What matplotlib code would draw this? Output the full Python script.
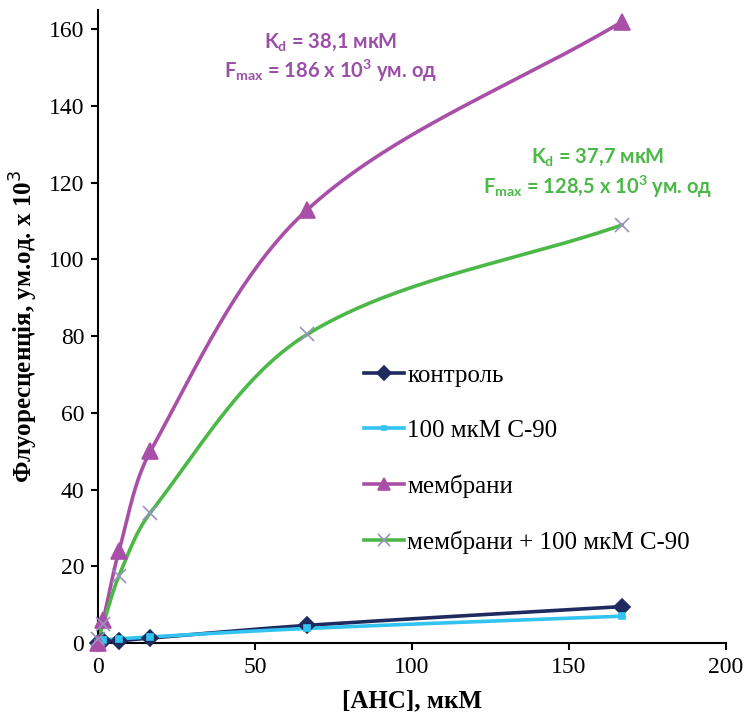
import numpy as np
import matplotlib
matplotlib.use("Agg")
import matplotlib.pyplot as plt

# [АНС], мкМ
conc = [0, 1.67, 6.67, 16.7, 66.7, 167]

control = [0, 0.4, 0.6, 1.3, 4.6, 9.5]
c90 = [0, 0.7, 1.1, 1.6, 3.8, 7.0]
membranes = [0, 6.0, 24.0, 50.0, 113.0, 162.0]
membranes_c90 = [1.0, 5.0, 17.5, 34.0, 80.5, 109.0]

labels = ["контроль", "100 мкМ С-90", "мембрани", "мембрани + 100 мкМ С-90"]


def smooth(x, y, n=40):
    # Catmull-Rom curve through the points, like Excel's smoothed lines
    x = np.asarray(x, float) / 200.0
    y = np.asarray(y, float) / 165.0
    px = np.concatenate([[2 * x[0] - x[1]], x, [2 * x[-1] - x[-2]]])
    py = np.concatenate([[2 * y[0] - y[1]], y, [2 * y[-1] - y[-2]]])
    P = np.column_stack([px, py])
    out = []
    for i in range(1, len(P) - 2):
        p0, p1, p2, p3 = P[i - 1], P[i], P[i + 1], P[i + 2]
        d1 = np.linalg.norm(p2 - p1)
        t1 = (p2 - p0) / 2 * d1 / max((np.linalg.norm(p1 - p0) + d1) / 2, 1e-9)
        t2 = (p3 - p1) / 2 * d1 / max((np.linalg.norm(p3 - p2) + d1) / 2, 1e-9)
        t = np.linspace(0, 1, n)[:, None]
        h00 = 2 * t**3 - 3 * t**2 + 1
        h10 = t**3 - 2 * t**2 + t
        h01 = -2 * t**3 + 3 * t**2
        h11 = t**3 - t**2
        out.append(h00 * p1 + h10 * t1 + h01 * p2 + h11 * t2)
    out = np.vstack(out)
    return out[:, 0] * 200.0, out[:, 1] * 165.0


fig = plt.figure(figsize=(7.46, 7.22), dpi=100)
ax = fig.add_axes([0.1314, 0.1094, 0.8418, 0.8767])

serif = "Liberation Serif"

styles = [
    (control, "#1F2A5E", "D", "#1F2A5E", 8),
    (c90, "#33C3F0", "s", "#33C3F0", 4),
    (membranes, "#A94FA8", "^", "#A94FA8", 11),
    (membranes_c90, "#4CB848", "x", "#9A92C0", 10),
]

handles = []
for (vals, col, mk, mcol, ms), lab in zip(styles, labels):
    sx, sy = smooth(conc, vals)
    ax.plot(sx, sy, color=col, lw=2.6, solid_capstyle="round", zorder=2)
    ax.plot(conc, vals, ls="none", marker=mk, color=mcol, ms=ms,
            mew=1.2, zorder=3, clip_on=False)
    h, = ax.plot([], [], color=col, lw=2.6, marker=mk, ms=ms * 0.85, mfc=mcol,
                 mec=mcol, mew=1.2, label=lab)
    handles.append(h)

ax.set_xlim(0, 200)
ax.set_ylim(0, 165)
ax.set_xticks([0, 50, 100, 150, 200])
ax.set_yticks(range(0, 161, 20))
for s in ["top", "right"]:
    ax.spines[s].set_visible(False)
for s in ["left", "bottom"]:
    ax.spines[s].set_linewidth(1.5)
ax.tick_params(direction="out", length=5, width=1.5, labelsize=17, pad=5)
for lbl in ax.get_xticklabels() + ax.get_yticklabels():
    lbl.set_fontfamily(serif)

ax.set_xlabel("[АНС], мкМ", fontsize=18, fontweight="bold", family=serif, labelpad=8)
ax.set_ylabel("Флуоресценція, ум.од. х 10$^3$", fontsize=18, fontweight="bold",
              family=serif, labelpad=6)

leg = ax.legend(handles=handles, loc="upper left", bbox_to_anchor=(0.423, 0.44),
                frameon=False, prop={"family": serif, "size": 18},
                labelspacing=1.3, handlelength=1.6, handletextpad=0.15,
                borderaxespad=0, borderpad=0)

ax.text(0.37, 0.967, "K$_\\mathregular{d}$ = 38,1 мкМ\nF$_\\mathregular{max}$ = 186 x 10$^\\mathregular{3}$ ум. од",
        transform=ax.transAxes, ha="center", va="top", color="#9B4FA8",
        fontsize=14.5, fontweight="bold", family="Lato", linespacing=1.25)
ax.text(0.795, 0.784, "K$_\\mathregular{d}$ = 37,7 мкМ\nF$_\\mathregular{max}$ = 128,5 x 10$^\\mathregular{3}$ ум. од",
        transform=ax.transAxes, ha="center", va="top", color="#4CB848",
        fontsize=14.5, fontweight="bold", family="Lato", linespacing=1.25)

fig.savefig("out.png", dpi=100)
